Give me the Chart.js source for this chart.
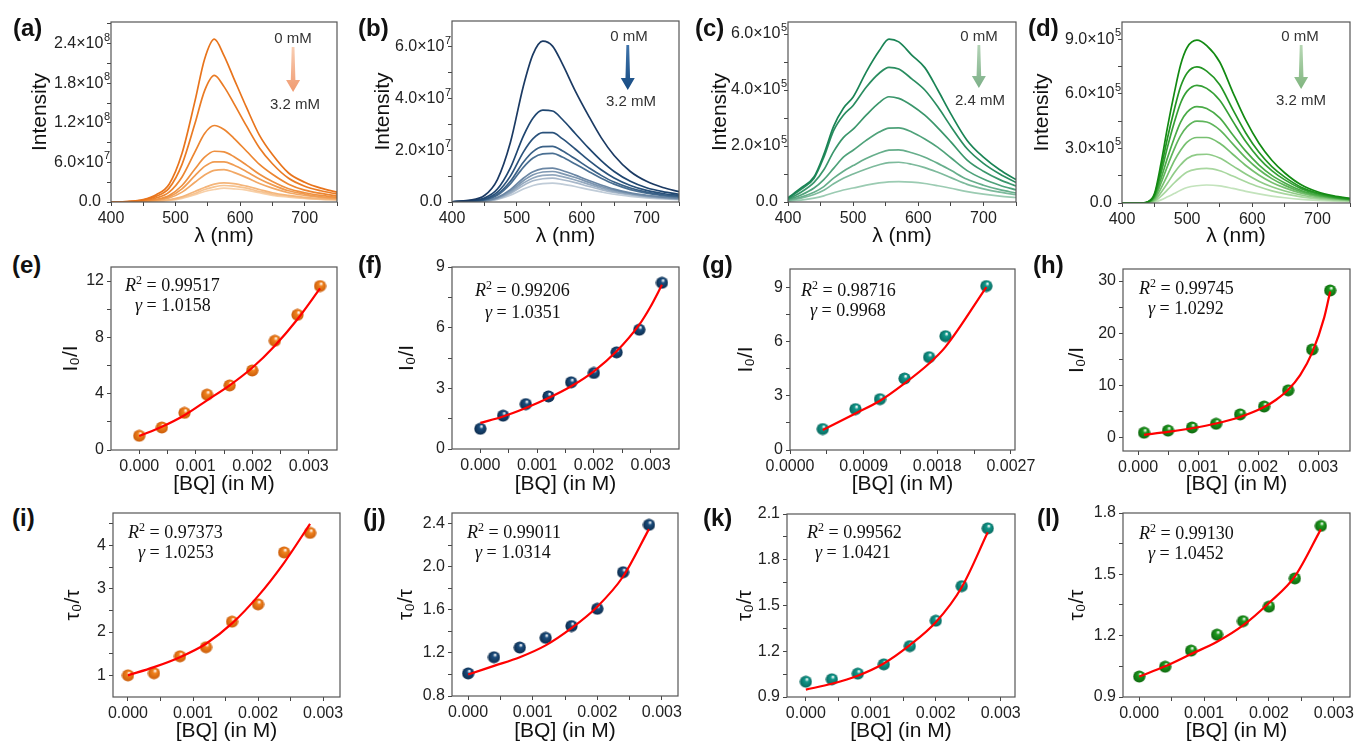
<!DOCTYPE html>
<html>
<head>
<meta charset="utf-8">
<script src="https://cdn.jsdelivr.net/npm/chart.js@4.4.1/dist/chart.umd.min.js"></script>
<style>
  html, body { margin: 0; width: 1354px; height: 745px; overflow: hidden; background: #fff; }
  body { position: relative; font-family: 'Liberation Sans', Arial, sans-serif; }
  canvas { position: absolute; }
  .lbl  { position: absolute; font-weight: bold; font-size: 24px; line-height: 1; color: #111; transform: translateY(-50%); }
  .note { position: absolute; font-size: 15px; line-height: 1; color: #333; transform: translate(-50%, -50%); white-space: nowrap; }
  .eq   { position: absolute; font-family: 'Liberation Serif', 'DejaVu Serif', serif; font-size: 18px; line-height: 1; color: #111; transform: translateY(-50%); white-space: nowrap; }
  .eq sup { font-size: 12px; vertical-align: 7px; line-height: 0; }
</style>
</head>
<body>
<canvas id="a"></canvas><canvas id="b"></canvas><canvas id="c"></canvas><canvas id="d"></canvas>
<canvas id="e"></canvas><canvas id="f"></canvas><canvas id="g"></canvas><canvas id="h"></canvas>
<canvas id="i"></canvas><canvas id="j"></canvas><canvas id="k"></canvas><canvas id="l"></canvas>

<div class="lbl" style="left:13px;top:28px">(a)</div>
<div class="lbl" style="left:358px;top:28px">(b)</div>
<div class="lbl" style="left:695px;top:28px">(c)</div>
<div class="lbl" style="left:1028px;top:28px">(d)</div>
<div class="lbl" style="left:12px;top:265px">(e)</div>
<div class="lbl" style="left:358px;top:265px">(f)</div>
<div class="lbl" style="left:702px;top:265px">(g)</div>
<div class="lbl" style="left:1033px;top:265px">(h)</div>
<div class="lbl" style="left:12px;top:518px">(i)</div>
<div class="lbl" style="left:363px;top:518px">(j)</div>
<div class="lbl" style="left:703px;top:518px">(k)</div>
<div class="lbl" style="left:1037px;top:518px">(l)</div>

<div class="note" style="left:293px;top:37px">0 mM</div>
<div class="note" style="left:295px;top:103px">3.2 mM</div>
<div class="note" style="left:629px;top:35px">0 mM</div>
<div class="note" style="left:631px;top:100px">3.2 mM</div>
<div class="note" style="left:979px;top:35px">0 mM</div>
<div class="note" style="left:980px;top:99px">2.4 mM</div>
<div class="note" style="left:1300px;top:35px">0 mM</div>
<div class="note" style="left:1301px;top:99px">3.2 mM</div>

<div class="eq" style="left:125px;top:285px"><i>R</i><sup>2</sup> = 0.99517</div>
<div class="eq" style="left:135px;top:305px"><i>γ</i> = 1.0158</div>
<div class="eq" style="left:475px;top:290px"><i>R</i><sup>2</sup> = 0.99206</div>
<div class="eq" style="left:485px;top:312px"><i>γ</i> = 1.0351</div>
<div class="eq" style="left:801px;top:290px"><i>R</i><sup>2</sup> = 0.98716</div>
<div class="eq" style="left:810px;top:310px"><i>γ</i> = 0.9968</div>
<div class="eq" style="left:1139px;top:288px"><i>R</i><sup>2</sup> = 0.99745</div>
<div class="eq" style="left:1148px;top:308px"><i>γ</i> = 1.0292</div>
<div class="eq" style="left:128px;top:532px"><i>R</i><sup>2</sup> = 0.97373</div>
<div class="eq" style="left:138px;top:552px"><i>γ</i> = 1.0253</div>
<div class="eq" style="left:467px;top:532px"><i>R</i><sup>2</sup> = 0.99011</div>
<div class="eq" style="left:475px;top:552px"><i>γ</i> = 1.0314</div>
<div class="eq" style="left:807px;top:532px"><i>R</i><sup>2</sup> = 0.99562</div>
<div class="eq" style="left:815px;top:552px"><i>γ</i> = 1.0421</div>
<div class="eq" style="left:1139px;top:533px"><i>R</i><sup>2</sup> = 0.99130</div>
<div class="eq" style="left:1148px;top:553px"><i>γ</i> = 1.0452</div>

<script>
'use strict';

/* ── Emission spectra (a)–(d) ───────────────────────────────────── */
// (a) intensity in units of 10^8, 0 → 3.2 mM
const wlA = [400, 425, 450, 470, 490, 510, 530, 545, 560, 575, 590, 610, 630, 650, 675, 700, 725, 750];
const specA = [
  [0, 0.007, 0.037, 0.11, 0.27, 0.74, 1.53, 2.17, 2.47, 2.22, 1.88, 1.43, 1.01, 0.72, 0.44, 0.30, 0.21, 0.15],
  [0, 0.006, 0.030, 0.085, 0.21, 0.57, 1.19, 1.69, 1.92, 1.75, 1.50, 1.15, 0.82, 0.58, 0.36, 0.24, 0.17, 0.12],
  [0, 0.004, 0.020, 0.06, 0.15, 0.38, 0.76, 1.04, 1.16, 1.10, 0.97, 0.77, 0.57, 0.42, 0.27, 0.18, 0.13, 0.09],
  [0, 0.003, 0.013, 0.04, 0.10, 0.25, 0.50, 0.68, 0.77, 0.76, 0.69, 0.56, 0.42, 0.31, 0.20, 0.14, 0.10, 0.07],
  [0, 0.002, 0.010, 0.03, 0.08, 0.20, 0.40, 0.54, 0.61, 0.61, 0.56, 0.46, 0.35, 0.26, 0.17, 0.12, 0.08, 0.06],
  [0, 0.002, 0.008, 0.024, 0.06, 0.15, 0.30, 0.41, 0.48, 0.49, 0.45, 0.37, 0.28, 0.21, 0.14, 0.10, 0.07, 0.05],
  [0, 0.001, 0.004, 0.013, 0.034, 0.08, 0.16, 0.22, 0.27, 0.29, 0.28, 0.24, 0.19, 0.14, 0.10, 0.07, 0.05, 0.04],
  [0, 0.001, 0.003, 0.011, 0.028, 0.07, 0.13, 0.19, 0.23, 0.25, 0.24, 0.21, 0.16, 0.12, 0.09, 0.06, 0.045, 0.035],
  [0, 0.001, 0.003, 0.009, 0.023, 0.055, 0.11, 0.16, 0.19, 0.21, 0.20, 0.18, 0.14, 0.10, 0.075, 0.055, 0.04, 0.03]
];
const colorsA = ['#E8741C', '#EA7B24', '#EC8530', '#EE9040', '#F09C52', '#F2A865', '#F4B57A', '#F6C391', '#F8D0A8'];
const yTicksA  = [0, 0.3, 0.6, 0.9, 1.2, 1.5, 1.8, 2.1, 2.4, 2.7];
const yLabelsA = ['0.0', '', '6.0×10^7', '', '1.2×10^8', '', '1.8×10^8', '', '2.4×10^8', ''];

// (b) intensity in units of 10^7
const wlB = [400, 425, 450, 470, 490, 510, 525, 540, 555, 570, 590, 610, 630, 650, 675, 700, 725, 750];
const specB = [
  [0.01, 0.06, 0.25, 0.87, 2.30, 4.48, 5.72, 6.22, 6.03, 5.35, 4.30, 3.36, 2.49, 1.80, 1.18, 0.80, 0.56, 0.40],
  [0.01, 0.04, 0.15, 0.50, 1.32, 2.55, 3.25, 3.55, 3.52, 3.20, 2.65, 2.10, 1.60, 1.18, 0.80, 0.55, 0.40, 0.30],
  [0.01, 0.03, 0.11, 0.38, 1.00, 1.93, 2.45, 2.68, 2.68, 2.45, 2.05, 1.63, 1.25, 0.93, 0.64, 0.45, 0.33, 0.25],
  [0.01, 0.03, 0.09, 0.30, 0.80, 1.54, 1.95, 2.14, 2.15, 1.98, 1.67, 1.34, 1.03, 0.77, 0.54, 0.38, 0.28, 0.21],
  [0.01, 0.02, 0.08, 0.26, 0.70, 1.34, 1.70, 1.86, 1.88, 1.74, 1.47, 1.19, 0.92, 0.69, 0.48, 0.34, 0.25, 0.19],
  [0, 0.02, 0.05, 0.18, 0.48, 0.92, 1.17, 1.29, 1.31, 1.22, 1.04, 0.84, 0.66, 0.50, 0.35, 0.26, 0.19, 0.15],
  [0, 0.015, 0.05, 0.16, 0.43, 0.82, 1.05, 1.16, 1.18, 1.10, 0.95, 0.77, 0.60, 0.46, 0.33, 0.24, 0.18, 0.14],
  [0, 0.013, 0.04, 0.14, 0.38, 0.73, 0.93, 1.03, 1.05, 0.98, 0.85, 0.69, 0.54, 0.41, 0.30, 0.22, 0.16, 0.12],
  [0, 0.01, 0.035, 0.12, 0.33, 0.64, 0.82, 0.90, 0.92, 0.86, 0.75, 0.61, 0.48, 0.37, 0.27, 0.20, 0.15, 0.11],
  [0, 0.008, 0.028, 0.10, 0.26, 0.50, 0.64, 0.71, 0.73, 0.69, 0.60, 0.49, 0.39, 0.30, 0.22, 0.16, 0.12, 0.09]
];
const colorsB = ['#1B3A63', '#1F4670', '#2A527B', '#3A6187', '#4A6F92', '#6A86A4', '#7E97B1', '#93A8BE', '#A8B8CA', '#C0CCD8'];
const yTicksB  = [0, 1, 2, 3, 4, 5, 6];
const yLabelsB = ['0.0', '', '2.0×10^7', '', '4.0×10^7', '', '6.0×10^7'];

// (c) intensity in units of 10^5, 0 → 2.4 mM
const wlC = [400, 420, 440, 455, 470, 485, 500, 520, 540, 555, 570, 590, 610, 630, 650, 675, 700, 725, 750];
const specC = [
  [0.15, 0.50, 0.90, 1.70, 2.70, 3.35, 3.75, 4.64, 5.40, 5.82, 5.72, 5.25, 4.80, 4.00, 3.15, 2.20, 1.60, 1.15, 0.80],
  [0.13, 0.45, 0.85, 1.60, 2.55, 3.10, 3.45, 4.10, 4.60, 4.81, 4.75, 4.40, 4.00, 3.40, 2.70, 1.90, 1.38, 1.00, 0.70],
  [0.10, 0.35, 0.70, 1.15, 1.80, 2.30, 2.60, 3.10, 3.55, 3.76, 3.70, 3.45, 3.10, 2.65, 2.15, 1.50, 1.10, 0.80, 0.57],
  [0.08, 0.25, 0.50, 0.80, 1.20, 1.60, 1.85, 2.20, 2.50, 2.64, 2.65, 2.50, 2.25, 1.95, 1.58, 1.12, 0.82, 0.60, 0.43],
  [0.06, 0.18, 0.35, 0.55, 0.85, 1.10, 1.30, 1.55, 1.75, 1.85, 1.86, 1.76, 1.60, 1.38, 1.13, 0.81, 0.60, 0.44, 0.32],
  [0.05, 0.14, 0.27, 0.42, 0.65, 0.85, 1.00, 1.18, 1.33, 1.41, 1.42, 1.35, 1.23, 1.06, 0.87, 0.63, 0.47, 0.35, 0.26],
  [0.03, 0.07, 0.14, 0.22, 0.33, 0.43, 0.50, 0.60, 0.68, 0.72, 0.73, 0.71, 0.66, 0.58, 0.49, 0.37, 0.28, 0.21, 0.16]
];
const colorsC = ['#1A8455', '#2A8D60', '#3A966B', '#4FA27A', '#66AE8B', '#7DBA9C', '#9BCBB2'];
const yTicksC  = [0, 1, 2, 3, 4, 5, 6];
const yLabelsC = ['0.0', '', '2.0×10^5', '', '4.0×10^5', '', '6.0×10^5'];

// (d) intensity in units of 10^5
const wlD = [400, 430, 440, 450, 460, 470, 480, 490, 500, 515, 530, 550, 570, 590, 610, 630, 650, 675, 700, 725, 750];
const specD = [
  [0, 0, 0.07, 0.53, 2.20, 4.20, 6.00, 7.60, 8.55, 8.95, 8.65, 7.75, 6.10, 4.55, 3.30, 2.35, 1.65, 1.00, 0.62, 0.40, 0.26],
  [0, 0, 0.06, 0.45, 1.90, 3.60, 5.10, 6.40, 7.15, 7.48, 7.25, 6.50, 5.15, 3.85, 2.80, 2.00, 1.42, 0.87, 0.55, 0.35, 0.23],
  [0, 0, 0.05, 0.40, 1.65, 3.10, 4.40, 5.50, 6.15, 6.47, 6.30, 5.65, 4.50, 3.38, 2.47, 1.78, 1.27, 0.79, 0.50, 0.32, 0.21],
  [0, 0, 0.04, 0.33, 1.35, 2.50, 3.55, 4.45, 5.00, 5.30, 5.20, 4.68, 3.75, 2.85, 2.10, 1.52, 1.10, 0.69, 0.44, 0.29, 0.19],
  [0, 0, 0.03, 0.27, 1.10, 2.05, 2.95, 3.70, 4.20, 4.50, 4.45, 4.02, 3.25, 2.48, 1.84, 1.34, 0.97, 0.62, 0.40, 0.27, 0.18],
  [0, 0, 0.02, 0.20, 0.82, 1.55, 2.30, 2.90, 3.35, 3.60, 3.60, 3.28, 2.68, 2.06, 1.54, 1.13, 0.83, 0.54, 0.35, 0.24, 0.16],
  [0, 0, 0.015, 0.14, 0.58, 1.10, 1.65, 2.10, 2.45, 2.66, 2.68, 2.47, 2.04, 1.59, 1.20, 0.89, 0.66, 0.44, 0.29, 0.20, 0.14],
  [0, 0, 0.01, 0.09, 0.38, 0.73, 1.10, 1.43, 1.70, 1.86, 1.90, 1.77, 1.48, 1.17, 0.89, 0.67, 0.50, 0.34, 0.23, 0.16, 0.11],
  [0, 0, 0.005, 0.04, 0.17, 0.34, 0.52, 0.70, 0.85, 0.95, 0.99, 0.94, 0.80, 0.64, 0.50, 0.38, 0.29, 0.20, 0.14, 0.10, 0.07]
];
const colorsD = ['#128A12', '#239523', '#35A035', '#4AAB47', '#5FB55B', '#77C070', '#8FCB87', '#A8D79F', '#C3E3BC'];
const yTicksD  = [0, 1.5, 3, 4.5, 6, 7.5, 9];
const yLabelsD = ['0.0', '', '3.0×10^5', '', '6.0×10^5', '', '9.0×10^5'];

const wlTicks  = [400, 450, 500, 550, 600, 650, 700, 750];
const wlLabels = ['400', '', '500', '', '600', '', '700', ''];

/* ── Stern–Volmer, I0/I (e)–(h) ─────────────────────────────────── */
const bqE    = [0, 0.0004, 0.0008, 0.0012, 0.0016, 0.0020, 0.0024, 0.0028, 0.0032];
const ratioE = [1.01, 1.60, 2.64, 3.93, 4.59, 5.65, 7.76, 9.60, 11.65];
const fitE   = [0.99, 1.65, 2.47, 3.53, 4.59, 5.84, 7.41, 9.29, 11.48];

const bqF    = [0, 0.0004, 0.0008, 0.0012, 0.0016, 0.0020, 0.0024, 0.0028, 0.0032];
const ratioF = [1.00, 1.65, 2.22, 2.60, 3.30, 3.76, 4.78, 5.90, 8.22];
const fitXF  = [0, 0.0004, 0.0008, 0.0012, 0.0016, 0.0020, 0.0024, 0.0028, 0.0030, 0.0032];
const fitF   = [1.29, 1.61, 2.03, 2.52, 3.10, 3.84, 4.83, 6.15, 7.05, 8.12];

const bqG    = [0.0004, 0.0008, 0.0011, 0.0014, 0.0017, 0.0019, 0.0024];
const ratioG = [1.16, 2.26, 2.81, 3.95, 5.13, 6.29, 9.06];
const fitG   = [1.10, 2.02, 2.72, 3.68, 4.78, 5.70, 9.00];

const bqH    = [0.0001, 0.0005, 0.0009, 0.0013, 0.0017, 0.0021, 0.0025, 0.0029, 0.0032];
const ratioH = [1.0, 1.4, 2.0, 2.7, 4.5, 6.0, 9.1, 16.9, 28.2];
const fitXH  = [0.0001, 0.0005, 0.0009, 0.0013, 0.0017, 0.0021, 0.0023, 0.0025, 0.0027, 0.0029, 0.0031, 0.0032];
const fitH   = [0.6, 1.15, 1.85, 2.75, 4.0, 5.9, 7.3, 9.2, 12.0, 16.3, 23.0, 28.0];

/* ── Lifetime ratio τ0/τ (i)–(l) ────────────────────────────────── */
const bqTau  = [0, 0.0004, 0.0008, 0.0012, 0.0016, 0.0020, 0.0024, 0.0028];
const ratioI = [1.00, 1.05, 1.44, 1.65, 2.24, 2.64, 3.84, 4.29];
const fitI   = [1.00, 1.19, 1.42, 1.73, 2.20, 2.83, 3.60, 4.50];
const ratioJ = [1.01, 1.16, 1.25, 1.34, 1.45, 1.61, 1.95, 2.39];
const fitJ   = [1.00, 1.08, 1.16, 1.27, 1.43, 1.63, 1.91, 2.35];
const ratioK = [1.00, 1.016, 1.053, 1.114, 1.234, 1.40, 1.627, 2.006];
const fitK   = [0.948, 0.987, 1.04, 1.12, 1.24, 1.39, 1.62, 1.98];
const ratioL = [1.00, 1.048, 1.127, 1.205, 1.271, 1.342, 1.48, 1.737];
const fitL   = [1.00, 1.05, 1.11, 1.17, 1.25, 1.36, 1.49, 1.72];

/* ── Tick values / labels for the quenching plots ───────────────── */
const bqTicks  = [0, 0.0005, 0.001, 0.0015, 0.002, 0.0025, 0.003];
const bqLabels = ['0.000', '', '0.001', '', '0.002', '', '0.003'];
const bqTicksG  = [0, 0.00045, 0.0009, 0.00135, 0.0018, 0.00225, 0.0027];
const bqLabelsG = ['0.0000', '', '0.0009', '', '0.0018', '', '0.0027'];

const yTicksE = [0, 2, 4, 6, 8, 10, 12];          const yLabelsE = ['0', '', '4', '', '8', '', '12'];
const yTicksF = [0, 1.5, 3, 4.5, 6, 7.5, 9];      const yLabelsF = ['0', '', '3', '', '6', '', '9'];
const yTicksG = [0, 1.5, 3, 4.5, 6, 7.5, 9];      const yLabelsG = ['0', '', '3', '', '6', '', '9'];
const yTicksH = [0, 5, 10, 15, 20, 25, 30];       const yLabelsH = ['0', '', '10', '', '20', '', '30'];
const yTicksI = [1, 1.5, 2, 2.5, 3, 3.5, 4, 4.5]; const yLabelsI = ['1', '', '2', '', '3', '', '4', ''];
const yTicksJ = [0.8, 1.0, 1.2, 1.4, 1.6, 1.8, 2.0, 2.2, 2.4]; const yLabelsJ = ['0.8', '', '1.2', '', '1.6', '', '2.0', '', '2.4'];
const yTicksK = [0.9, 1.05, 1.2, 1.35, 1.5, 1.65, 1.8, 1.95, 2.1]; const yLabelsK = ['0.9', '', '1.2', '', '1.5', '', '1.8', '', '2.1'];
const yTicksL = [0.9, 1.05, 1.2, 1.35, 1.5, 1.65, 1.8]; const yLabelsL = ['0.9', '', '1.2', '', '1.5', '', '1.8'];

/* ── Layout: plot rect [left, top, right, bottom] + y-title centre ─ */
const ROWS = [{ top: 0, h: 247 }, { top: 250, h: 245 }, { top: 495, h: 247 }];
const GEOM = {
  a: { plot: [111, 22, 337, 202], yTitleX: 40,   row: 0 },
  b: { plot: [452, 21, 679, 202], yTitleX: 383,  row: 0 },
  c: { plot: [788, 22, 1016, 202], yTitleX: 720, row: 0 },
  d: { plot: [1122, 22, 1350, 203], yTitleX: 1042, row: 0 },
  e: { plot: [111, 267, 337, 450], yTitleX: 71,  row: 1 },
  f: { plot: [452, 267, 679, 449], yTitleX: 407, row: 1 },
  g: { plot: [790, 269, 1015, 450], yTitleX: 746, row: 1 },
  h: { plot: [1123, 269, 1350, 451], yTitleX: 1077, row: 1 },
  i: { plot: [113, 513, 340, 697], yTitleX: 73,  row: 2 },
  j: { plot: [452, 513, 678, 696], yTitleX: 406, row: 2 },
  k: { plot: [787, 514, 1015, 697], yTitleX: 745, row: 2 },
  l: { plot: [1123, 513, 1350, 697], yTitleX: 1077, row: 2 }
};
const PAD_R = 25;

const FONT   = "'Liberation Sans', Arial, sans-serif";
const TICK_FONT  = { family: FONT, size: 16 };
const TITLE_FONT = { family: FONT, size: 21, lineHeight: 1 };

/* ── Plugins ────────────────────────────────────────────────────── */
const framePlugin = {
  id: 'frame',
  afterDraw(chart) {
    const { ctx, chartArea: a } = chart;
    ctx.save();
    ctx.strokeStyle = '#555';
    ctx.lineWidth = 1.2;
    ctx.strokeRect(a.left, a.top, a.right - a.left, a.bottom - a.top);
    ctx.restore();
  }
};

// y tick labels of the form "2.4×10^8" with a real raised exponent
const sciTickPlugin = {
  id: 'sciTicks',
  afterDraw(chart, args, opts) {
    if (!opts || !opts.labels) return;
    const { ctx, scales: { y } } = chart;
    ctx.save();
    ctx.fillStyle = '#222';
    ctx.textBaseline = 'middle';
    ctx.textAlign = 'right';
    y.ticks.forEach((t, i) => {
      const txt = opts.labels[i];
      if (!txt) return;
      const py = y.getPixelForValue(t.value);
      const [base, exp] = txt.split('^');
      let xr = y.right - 1;
      if (exp) {
        ctx.font = `11px ${FONT}`;
        ctx.fillText(exp, xr, py - 6);
        xr -= ctx.measureText(exp).width + 0.5;
      } else {
        xr -= 9;
      }
      ctx.font = `16px ${FONT}`;
      ctx.fillText(base, xr, py);
    });
    ctx.restore();
  }
};

const arrowPlugin = {
  id: 'arrow',
  afterDatasetsDraw(chart, args, opts) {
    if (!opts || opts.x == null) return;
    const { ctx, scales } = chart;
    const px = scales.x.getPixelForValue(opts.x);
    const y1 = scales.y.getPixelForValue(opts.y1);
    const y2 = scales.y.getPixelForValue(opts.y2);
    const sw = 2.3, hw = 7, hl = 12;
    const grd = ctx.createLinearGradient(0, y1, 0, y2);
    grd.addColorStop(0, opts.light);
    grd.addColorStop(1, opts.color);
    ctx.save();
    ctx.fillStyle = grd;
    ctx.beginPath();
    ctx.moveTo(px - sw * 0.6, y1);
    ctx.lineTo(px + sw * 0.6, y1);
    ctx.lineTo(px + sw, y2 - hl);
    ctx.lineTo(px + hw, y2 - hl);
    ctx.lineTo(px, y2);
    ctx.lineTo(px - hw, y2 - hl);
    ctx.lineTo(px - sw, y2 - hl);
    ctx.closePath();
    ctx.fill();
    ctx.restore();
  }
};

/* ── Helpers ────────────────────────────────────────────────────── */
function place(id) {
  const g = GEOM[id], r = ROWS[g.row];
  const [L, T, R, B] = g.plot;
  const left = Math.round(g.yTitleX - 10.5);
  const cv = document.getElementById(id);
  cv.width  = R + PAD_R - left;
  cv.height = r.h;
  cv.style.left = left + 'px';
  cv.style.top  = r.top + 'px';
  return { cv, yw: L - left, xh: r.top + r.h - B, padTop: T - r.top };
}

function axis(min, max, ticks, labels, title, fit) {
  return {
    type: 'linear', min, max,
    afterBuildTicks: s => { s.ticks = ticks.map(v => ({ value: v })); },
    afterFit: fit,
    ticks: {
      autoSkip: false, maxRotation: 0, minRotation: 0, padding: 3,
      color: '#222', font: TICK_FONT,
      callback: (v, i) => labels[i]
    },
    grid: { drawOnChartArea: false, drawTicks: true, tickLength: 4, tickColor: '#444', lineWidth: 1 },
    border: { display: false },
    title: { display: true, text: title, color: '#111', font: TITLE_FONT, padding: 0 }
  };
}

function ball(color, dark) {
  const d = 13, c = document.createElement('canvas');
  c.width = c.height = d;
  const g = c.getContext('2d');
  const grd = g.createRadialGradient(d * 0.6, d * 0.3, 0.4, d / 2, d / 2, d / 2);
  grd.addColorStop(0, '#ffffff');
  grd.addColorStop(0.28, color);
  grd.addColorStop(1, dark);
  g.fillStyle = grd;
  g.beginPath();
  g.arc(d / 2, d / 2, d / 2 - 0.4, 0, Math.PI * 2);
  g.fill();
  return c;
}

function spectrum(id, wl, curves, colors, yMax, yTicks, yLabels, arrow) {
  const p = place(id);
  return new Chart(p.cv, {
    type: 'line',
    data: {
      datasets: curves.map((c, k) => ({
        data: wl.map((w, j) => ({ x: w, y: c[j] })),
        borderColor: colors[k],
        borderWidth: 1.7,
        pointRadius: 0,
        cubicInterpolationMode: 'monotone',
        fill: false
      }))
    },
    options: {
      responsive: false, animation: false,
      layout: { padding: { top: p.padTop, right: PAD_R, left: 0, bottom: 0 } },
      plugins: {
        legend: { display: false }, tooltip: { enabled: false },
        arrow, sciTicks: { labels: yLabels }
      },
      scales: {
        x: axis(400, 750, wlTicks, wlLabels, 'λ (nm)', s => { s.height = p.xh; }),
        y: axis(0, yMax, yTicks, yTicks.map(() => ''), 'Intensity', s => { s.width = p.yw; })
      }
    },
    plugins: [framePlugin, arrowPlugin, sciTickPlugin]
  });
}

function quench(id, o) {
  const p = place(id);
  const fx = o.fitX || o.xs;
  return new Chart(p.cv, {
    type: 'scatter',
    data: {
      datasets: [
        {
          data: fx.map((x, j) => ({ x, y: o.fit[j] })),
          showLine: true, borderColor: '#FF0000', borderWidth: 2.2,
          pointRadius: 0, cubicInterpolationMode: 'monotone'
        },
        {
          data: o.xs.map((x, j) => ({ x, y: o.ys[j] })),
          pointStyle: o.ball, pointRadius: 6
        }
      ]
    },
    options: {
      responsive: false, animation: false,
      layout: { padding: { top: p.padTop, right: PAD_R, left: 0, bottom: 0 } },
      plugins: { legend: { display: false }, tooltip: { enabled: false } },
      scales: {
        x: axis(o.xMin, o.xMax, o.xTicks, o.xLabels, '[BQ] (in M)', s => { s.height = p.xh; }),
        y: axis(o.yMin, o.yMax, o.yTicks, o.yLabels, o.yTitle, s => { s.width = p.yw; })
      }
    },
    plugins: [framePlugin]
  });
}

/* ── Build panels ───────────────────────────────────────────────── */
spectrum('a', wlA, specA, colorsA, 2.73, yTicksA, yLabelsA, { x: 682, y1: 2.35, y2: 1.67, color: '#F09A70', light: '#F8CDB2' });
spectrum('b', wlB, specB, colorsB, 7.0,  yTicksB, yLabelsB, { x: 671, y1: 6.07, y2: 4.33, color: '#174B82', light: '#3F74AB' });
spectrum('c', wlC, specC, colorsC, 6.43, yTicksC, yLabelsC, { x: 693, y1: 5.61, y2: 4.07, color: '#7DB088', light: '#B3D3B6' });
spectrum('d', wlD, specD, colorsD, 9.95, yTicksD, yLabelsD, { x: 675, y1: 8.69, y2: 6.27, color: '#80B57F', light: '#B8D8B5' });

const ballOrange = ball('#F0821E', '#C85A08');
const ballNavy   = ball('#1B4D7E', '#0C2A4A');
const ballTeal   = ball('#11978A', '#07665C');
const ballGreen  = ball('#1E9A1E', '#0D640D');

const I0 = 'I₀/I', TAU = 'τ₀/τ';
quench('e', { xs: bqE, ys: ratioE, fit: fitE, ball: ballOrange, xMin: -0.0005, xMax: 0.0035, xTicks: bqTicks, xLabels: bqLabels, yMin: 0, yMax: 13, yTicks: yTicksE, yLabels: yLabelsE, yTitle: I0 });
quench('f', { xs: bqF, ys: ratioF, fitX: fitXF, fit: fitF, ball: ballNavy, xMin: -0.0005, xMax: 0.0035, xTicks: bqTicks, xLabels: bqLabels, yMin: 0, yMax: 9, yTicks: yTicksF, yLabels: yLabelsF, yTitle: I0 });
quench('g', { xs: bqG, ys: ratioG, fit: fitG, ball: ballTeal, xMin: 0, xMax: 0.00275, xTicks: bqTicksG, xLabels: bqLabelsG, yMin: 0, yMax: 10, yTicks: yTicksG, yLabels: yLabelsG, yTitle: I0 });
quench('h', { xs: bqH, ys: ratioH, fitX: fitXH, fit: fitH, ball: ballGreen, xMin: -0.00025, xMax: 0.00353, xTicks: bqTicks, xLabels: bqLabels, yMin: -2.5, yMax: 32.3, yTicks: yTicksH, yLabels: yLabelsH, yTitle: I0 });
quench('i', { xs: bqTau, ys: ratioI, fit: fitI, ball: ballOrange, xMin: -0.00023, xMax: 0.00326, xTicks: bqTicks, xLabels: bqLabels, yMin: 0.5, yMax: 4.75, yTicks: yTicksI, yLabels: yLabelsI, yTitle: TAU });
quench('j', { xs: bqTau, ys: ratioJ, fit: fitJ, ball: ballNavy, xMin: -0.00025, xMax: 0.00325, xTicks: bqTicks, xLabels: bqLabels, yMin: 0.8, yMax: 2.5, yTicks: yTicksJ, yLabels: yLabelsJ, yTitle: TAU });
quench('k', { xs: bqTau, ys: ratioK, fit: fitK, ball: ballTeal, xMin: -0.00029, xMax: 0.00322, xTicks: bqTicks, xLabels: bqLabels, yMin: 0.9, yMax: 2.1, yTicks: yTicksK, yLabels: yLabelsK, yTitle: TAU });
quench('l', { xs: bqTau, ys: ratioL, fit: fitL, ball: ballGreen, xMin: -0.00025, xMax: 0.00325, xTicks: bqTicks, xLabels: bqLabels, yMin: 0.9, yMax: 1.8, yTicks: yTicksL, yLabels: yLabelsL, yTitle: TAU });
</script>
</body>
</html>
